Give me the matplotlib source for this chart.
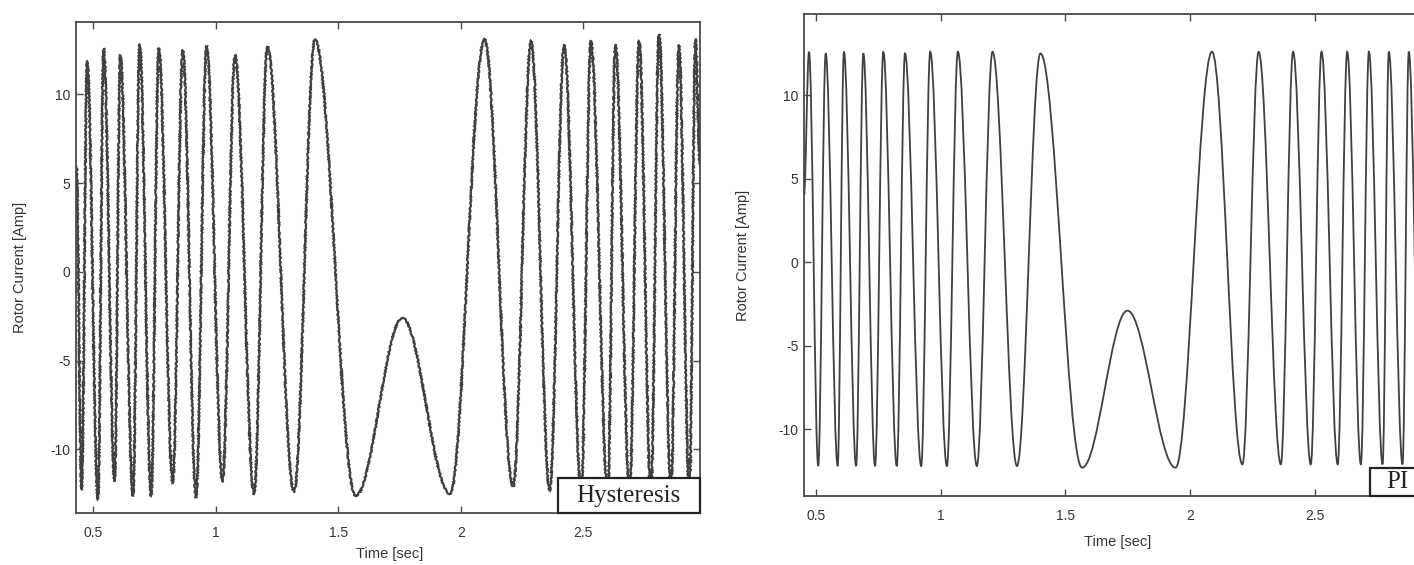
import numpy as np
import matplotlib
matplotlib.use('Agg')
import matplotlib.pyplot as plt
from matplotlib.path import Path
from matplotlib.patches import PathPatch, Rectangle

# rotor current extrema, [sec] and [Amp]
# hysteresis controller (left panel)
hyst_peak_t = [0.476, 0.543, 0.611, 0.690, 0.768, 0.866, 0.963, 1.079, 1.211, 1.405,
               1.762, 2.097, 2.287, 2.422, 2.531, 2.631, 2.728, 2.809, 2.890, 2.958]
hyst_peak_i = [11.9, 12.6, 12.2, 12.8, 12.6, 12.5, 12.7, 12.2, 12.7, 13.1,
               -2.6, 13.1, 13.0, 12.8, 13.0, 12.8, 13.0, 13.4, 12.8, 13.1]
hyst_trough_t = [0.453, 0.520, 0.588, 0.663, 0.737, 0.825, 0.920, 1.028, 1.157, 1.320,
                 1.571, 1.957, 2.214, 2.363, 2.492, 2.600, 2.689, 2.776, 2.858, 2.933]
hyst_trough_i = [-12.3, -12.8, -11.8, -12.6, -12.6, -11.9, -12.7, -11.8, -12.5, -12.4,
                 -12.6, -12.5, -12.1, -12.3, -12.4, -12.5, -12.4, -12.6, -12.4, -12.5]
hyst_ends_t = [0.432, 2.976]
hyst_ends_i = [6.0, 6.0]

# PI controller (right panel)
pi_peak_t = [0.472, 0.539, 0.612, 0.690, 0.770, 0.857, 0.958, 1.069, 1.208, 1.400,
             1.749, 2.088, 2.275, 2.413, 2.527, 2.630, 2.717, 2.797, 2.877]
pi_peak_i = [12.6, 12.5, 12.6, 12.5, 12.6, 12.5, 12.6, 12.6, 12.6, 12.5,
             -2.9, 12.6, 12.6, 12.6, 12.6, 12.6, 12.6, 12.6, 12.6]
pi_trough_t = [0.509, 0.587, 0.661, 0.737, 0.824, 0.922, 1.025, 1.145, 1.306, 1.567,
               1.942, 2.210, 2.364, 2.484, 2.592, 2.685, 2.772, 2.852, 2.925]
pi_trough_i = [-12.2, -12.2, -12.2, -12.2, -12.2, -12.2, -12.2, -12.2, -12.2, -12.3,
               -12.3, -12.1, -12.1, -12.1, -12.1, -12.1, -12.1, -12.1, -12.1]
pi_ends_t = [0.452]
pi_ends_i = [4.0]

xticks = [0.5, 1, 1.5, 2, 2.5]
xticklabels = ['0.5', '1', '1.5', '2', '2.5']
yticks = [-10, -5, 0, 5, 10]

LINE = '#404040'
INK = '#4a4a4a'

plt.rcParams['font.family'] = ['Liberation Sans', 'DejaVu Sans']
plt.rcParams['axes.unicode_minus'] = False


def merge(*pairs):
    t = np.concatenate([np.asarray(p[0], float) for p in pairs])
    v = np.concatenate([np.asarray(p[1], float) for p in pairs])
    order = np.argsort(t)
    return t[order], v[order]


def wave_path(t, v, k=0.36):
    # smooth segments between successive extrema (flat tangents at each extremum)
    verts = [(t[0], v[0])]
    codes = [Path.MOVETO]
    for i in range(1, len(t)):
        dx = t[i] - t[i - 1]
        verts += [(t[i - 1] + k * dx, v[i - 1]), (t[i] - k * dx, v[i]), (t[i], v[i])]
        codes += [Path.CURVE4] * 3
    return Path(verts, codes)


def style_axes(ax, xlim, ylim):
    ax.set_xlim(*xlim)
    ax.set_ylim(*ylim)
    ax.set_xticks(xticks)
    ax.set_xticklabels(xticklabels)
    ax.set_yticks(yticks)
    ax.tick_params(direction='in', top=True, right=True, length=5, width=1,
                   color=INK, labelcolor='#333333', labelsize=10, pad=4)
    ax.tick_params(axis='x', pad=9)
    for s in ax.spines.values():
        s.set_color(INK)
        s.set_linewidth(1.3)
    ax.set_xlabel('Time [sec]', fontsize=10.5, color='#333333')
    ax.set_ylabel('Rotor Current [Amp]', fontsize=10.5, color='#333333')


def tag_box(ax, x0, x1, h, label, tx):
    ax.add_patch(Rectangle((x0, 0), x1 - x0, h, transform=ax.transAxes,
                           facecolor='white', edgecolor='#222222', lw=1.6,
                           zorder=5, clip_on=False))
    ax.text(tx, h / 2, label, transform=ax.transAxes, ha='center', va='center',
            fontsize=18, family='Liberation Serif', color='#222222', zorder=6)


fig = plt.figure(figsize=(14.14, 5.65), dpi=100)

# left panel: hysteresis
ax1 = fig.add_axes([0.0537, 0.092, 0.4413, 0.869])
t, v = merge((hyst_ends_t, hyst_ends_i), (hyst_peak_t, hyst_peak_i),
             (hyst_trough_t, hyst_trough_i))
p1 = PathPatch(wave_path(t, v), facecolor='none', edgecolor=LINE, lw=1.6)
p1.set_sketch_params(scale=0.6, length=4, randomness=3)
ax1.add_patch(p1)
style_axes(ax1, (0.43, 2.976), (-13.58, 14.08))
ax1.yaxis.set_label_coords(-0.079, 0.5)
ax1.xaxis.set_label_coords(0.503, -0.069)
tag_box(ax1, 0.772, 1.0, 0.071, 'Hysteresis', 0.886)

# right panel: PI (runs off the right edge of the page)
ax2 = fig.add_axes([0.5686, 0.122, 0.4494, 0.853])
t, v = merge((pi_ends_t, pi_ends_i), (pi_peak_t, pi_peak_i),
             (pi_trough_t, pi_trough_i))
p2 = PathPatch(wave_path(t, v), facecolor='none', edgecolor=LINE, lw=1.3)
ax2.add_patch(p2)
style_axes(ax2, (0.452, 3.0), (-14.0, 14.85))
ax2.yaxis.set_label_coords(-0.085, 0.5)
ax2.xaxis.set_label_coords(0.494, -0.081)
tag_box(ax2, 0.891, 0.99, 0.058, 'PI', 0.934)

plt.savefig('out.png', dpi=100)
